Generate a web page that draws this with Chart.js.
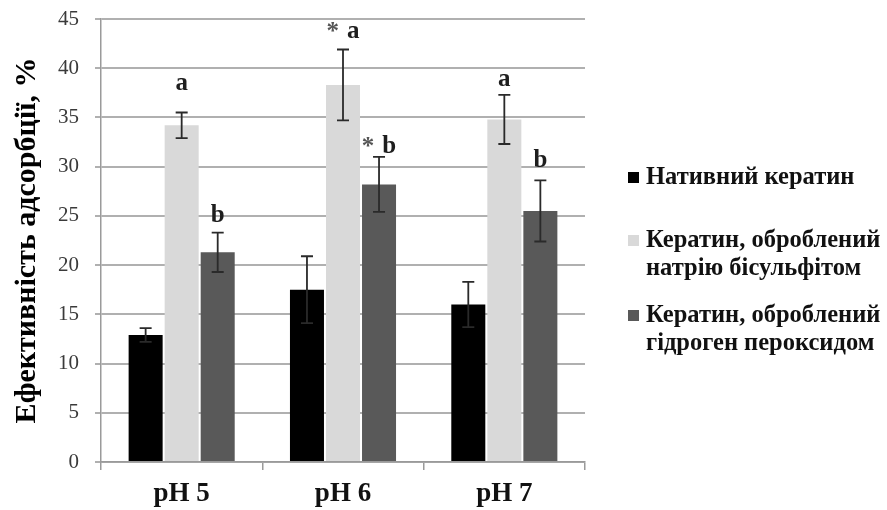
<!DOCTYPE html>
<html><head><meta charset="utf-8">
<script src="https://cdn.jsdelivr.net/npm/chart.js@4.4.1/dist/chart.umd.min.js"></script>
<style>html,body{margin:0;padding:0;background:#fff}canvas{display:block}</style>
</head><body>
<canvas id="c" width="887" height="510"></canvas>
<script>
const categories = ['pH 5', 'pH 6', 'pH 7'];
const seriesNames = [
  ['Нативний кератин'],
  ['Кератин, оброблений', 'натрію бісульфітом'],
  ['Кератин, оброблений', 'гідроген пероксидом']
];
const nativeVals = [12.9, 17.5, 16.0];
const nativeErr = [0.7, 3.4, 2.3];
const bisulfiteVals = [34.2, 38.3, 34.8];
const bisulfiteErr = [1.3, 3.6, 2.5];
const peroxideVals = [21.3, 28.2, 25.5];
const peroxideErr = [2.0, 2.8, 3.1];
const bisulfiteMarks = ['a', '* a', 'a'];
const peroxideMarks = ['b', '* b', 'b'];
const bisulfiteMarkLevel = [37.8, 43.1, 38.2];
const peroxideMarkLevel = [24.4, 31.4, 30.0];
const yTickValues = [0, 5, 10, 15, 20, 25, 30, 35, 40, 45];
const yTitle = 'Ефективність адсорбції, %';

const colors = ['#000000', '#d9d9d9', '#595959'];
const serif = "'Liberation Serif', 'DejaVu Serif', serif";

const errors = [nativeErr, bisulfiteErr, peroxideErr];
const marks = [null, bisulfiteMarks, peroxideMarks];
const markLevels = [null, bisulfiteMarkLevel, peroxideMarkLevel];

const fixAreaPlugin = {
  id: 'fixArea',
  afterLayout(chart) {
    const y = chart.scales.y, top = 19;
    if (Math.abs(y.top - top) > 0.5) {
      y.top = top;
      y.height = y.bottom - top;
      y.configure();
      try {
        chart.chartArea.top = top;
        chart.chartArea.height = chart.chartArea.bottom - top;
      } catch (e) {}
    }
  }
};

const errorBarPlugin = {
  id: 'errorBars',
  afterDatasetsDraw(chart) {
    const ctx = chart.ctx;
    const y = chart.scales.y;
    ctx.save();
    chart.data.datasets.forEach((ds, di) => {
      const meta = chart.getDatasetMeta(di);
      meta.data.forEach((bar, i) => {
        const v = ds.data[i], e = errors[di][i];
        const yt = y.getPixelForValue(v + e), yb = y.getPixelForValue(v - e);
        const x = bar.x, cap = 6;
        ctx.strokeStyle = '#2a2a2a';
        ctx.lineWidth = 1.8;
        ctx.beginPath();
        ctx.moveTo(x, yt); ctx.lineTo(x, yb);
        ctx.moveTo(x - cap, yt); ctx.lineTo(x + cap, yt);
        ctx.moveTo(x - cap, yb); ctx.lineTo(x + cap, yb);
        ctx.stroke();
      });
      if (marks[di]) {
        meta.data.forEach((bar, i) => {
          const txt = marks[di][i];
          const py = y.getPixelForValue(markLevels[di][i]);
          ctx.textBaseline = 'alphabetic';
          ctx.font = 'bold 25px ' + serif;
          if (txt.startsWith('*')) {
            const letter = txt.replace('*', '').trim();
            const wl = ctx.measureText(letter).width;
            const ws = ctx.measureText('*').width;
            const gap = 8;
            const total = ws + gap + wl;
            const start = bar.x - total / 2;
            ctx.textAlign = 'left';
            ctx.fillStyle = '#555';
            ctx.fillText('*', start, py + 1);
            ctx.fillStyle = '#1e1e1e';
            ctx.fillText(letter, start + ws + gap, py);
          } else {
            ctx.fillStyle = '#1e1e1e';
            ctx.textAlign = 'center';
            ctx.fillText(txt, bar.x, py);
          }
        });
      }
    });
    ctx.restore();
  }
};

const legendPlugin = {
  id: 'sideLegend',
  afterDraw(chart) {
    const ctx = chart.ctx;
    const baselines = [[184], [247, 275], [322, 350]];
    ctx.save();
    ctx.font = 'bold 24.5px ' + serif;
    ctx.textAlign = 'left';
    ctx.textBaseline = 'alphabetic';
    seriesNames.forEach((lines, k) => {
      const b0 = baselines[k][0];
      ctx.fillStyle = colors[k];
      ctx.fillRect(628, b0 - 12, 11, 11);
      ctx.fillStyle = '#111';
      lines.forEach((ln, j) => ctx.fillText(ln, 646, baselines[k][j]));
    });
    ctx.restore();
  }
};

new Chart(document.getElementById('c'), {
  type: 'bar',
  data: {
    labels: categories,
    datasets: [
      { label: seriesNames[0].join(' '), data: nativeVals, backgroundColor: colors[0] },
      { label: seriesNames[1].join(' '), data: bisulfiteVals, backgroundColor: colors[1] },
      { label: seriesNames[2].join(' '), data: peroxideVals, backgroundColor: colors[2] }
    ]
  },
  options: {
    responsive: false,
    animation: false,
    devicePixelRatio: 1,
    layout: { padding: { left: 0, top: 19, right: 302, bottom: 0 } },
    datasets: { bar: { categoryPercentage: 0.67, barPercentage: 0.944 } },
    plugins: { legend: { display: false }, tooltip: { enabled: false } },
    scales: {
      x: {
        grid: { display: true, drawOnChartArea: false, drawTicks: true, tickLength: 8, color: '#9a9a9a', lineWidth: 1.5 },
        border: { color: '#9a9a9a', width: 1.5 },
        ticks: { color: '#111', padding: 8, font: { family: serif, size: 27, weight: 'bold' } },
        afterFit(s) { s.height = 48; }
      },
      y: {
        min: 0, max: 45,
        afterBuildTicks(s) { s.ticks = yTickValues.map(v => ({ value: v })); },
        grid: { color: '#b0b0b0', lineWidth: 2, tickLength: 6, drawTicks: true },
        border: { color: '#9a9a9a', width: 1.5 },
        ticks: { color: '#3a3a3a', padding: 16, font: { family: serif, size: 21 } },
        title: { display: true, text: yTitle, color: '#000', font: { family: serif, size: 30, weight: 'bold' }, padding: { top: 9, bottom: 0 } },
        afterFit(s) { s.width = 101; }
      }
    }
  },
  plugins: [fixAreaPlugin, errorBarPlugin, legendPlugin]
});
</script>
</body></html>
